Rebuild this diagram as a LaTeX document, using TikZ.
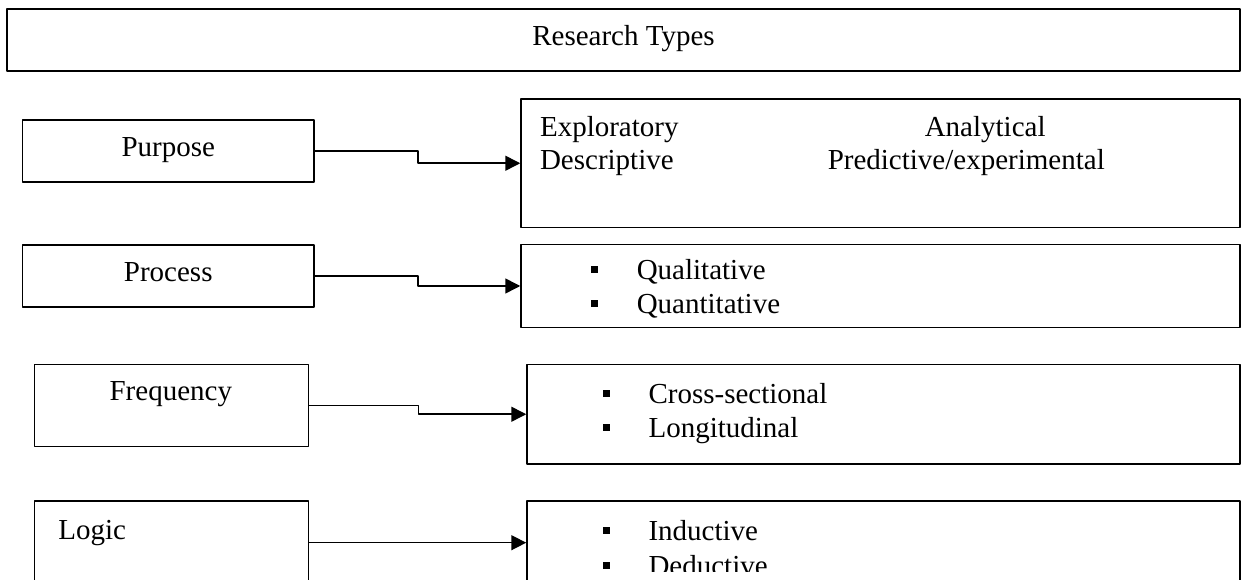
\documentclass[tikz,border=0pt]{standalone}
\usepackage{fontspec}
\setmainfont{Liberation Serif}
\usepackage{tikz}
\usetikzlibrary{arrows.meta,shapes}
\newcommand{\sqitem}[1]{\rule[6.5bp]{7bp}{7bp}\hspace{39bp}#1}

\begin{document}
\begin{tikzpicture}[>={Triangle[length=15bp,width=15bp]},line join=bevel,line width=1.5bp,
  font=\fontsize{29bp}{34bp}\selectfont,
  box/.style={draw,rectangle,inner sep=0pt,text height=19bp,text depth=7bp},
  txt/.style={inner sep=0pt}]
%%
\useasboundingbox (0bp,0bp) rectangle (1243bp,580bp);
\clip (0bp,0bp) rectangle (1243bp,580bp);
\node (types) at (623.5bp,540bp) [box,minimum width=1233bp,minimum height=62bp] {Research Types};
  \node (purpose) at (168.25bp,429bp) [box,minimum width=291.5bp,minimum height=62bp] {Purpose};
  \node (process) at (168.25bp,304bp) [box,minimum width=291.5bp,minimum height=62bp] {Process};
  \node (freq) at (171.55bp,174.3bp) [box,minimum width=274.3bp,minimum height=82bp] {};
  \node (logic) at (171.55bp,37.3bp) [box,minimum width=274.3bp,minimum height=83.4bp] {};
  \node (freqtxt) at (170.8bp,179bp) [txt,anchor=base] {Frequency};
  \node (logictxt) at (57.7bp,40bp) [txt,anchor=base west] {Logic};
  \node (purposeset) at (880.5bp,416.75bp) [box,minimum width=719bp,minimum height=128.5bp] {};
  \node (processset) at (880.5bp,294bp) [box,minimum width=719bp,minimum height=83.4bp] {};
  \node (freqset) at (883.5bp,165.75bp) [box,minimum width=713bp,minimum height=99.5bp] {};
  \node (logicset) at (883.5bp,37.3bp) [box,minimum width=713bp,minimum height=83.4bp] {};
  \node (explo) at (539.3bp,443bp) [txt,anchor=base west] {Exploratory};
  \node (descr) at (539.3bp,410bp) [txt,anchor=base west] {Descriptive};
  \node (analy) at (924bp,443bp) [txt,anchor=base west] {Analytical};
  \node (predi) at (827bp,410bp) [txt,anchor=base west] {Predictive/experimental};
  \node (quali) at (590bp,300bp) [txt,anchor=base west] {\sqitem{Qualitative}};
  \node (quanti) at (590bp,266.5bp) [txt,anchor=base west] {\sqitem{Quantitative}};
  \node (cross) at (601.8bp,176.7bp) [txt,anchor=base west] {\sqitem{Cross-sectional}};
  \node (longi) at (601.8bp,142.3bp) [txt,anchor=base west] {\sqitem{Longitudinal}};
  \node (induc) at (601.8bp,39.3bp) [txt,anchor=base west] {\sqitem{Inductive}};
  \begin{scope}
  \clip (527bp,8bp) rectangle (1240bp,580bp);
  \node (deduc) at (601.8bp,5bp) [txt,anchor=base west] {\sqitem{Deductive}};
  \end{scope}
  \draw [->] (purpose.east) -- ++(103bp,0bp) |- (purposeset.west);
  \draw [->] (process.east) -- ++(103bp,0bp) |- (processset.west);
  \draw [->] (freq.east) -- ++(109bp,0bp) |- (freqset.west);
  \draw [->] (logic.east) -- (logicset.west);
%
\end{tikzpicture}
\end{document}
